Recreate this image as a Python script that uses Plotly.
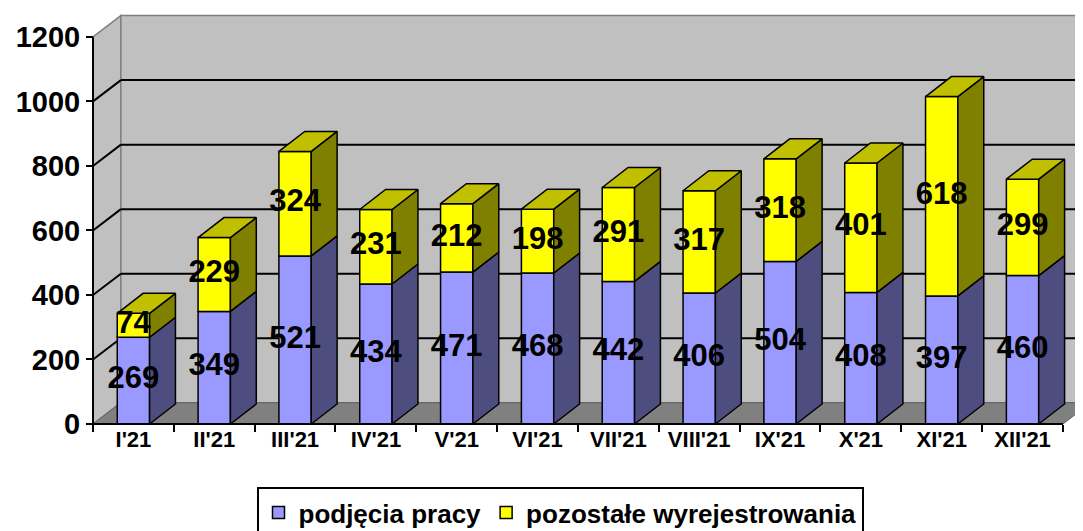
import plotly.graph_objects as go

months = ["I'21", "II'21", "III'21", "IV'21", "V'21", "VI'21",
          "VII'21", "VIII'21", "IX'21", "X'21", "XI'21", "XII'21"]
podjecia = [269, 349, 521, 434, 471, 468, 442, 406, 504, 408, 397, 460]
pozostale = [74, 229, 324, 231, 212, 198, 291, 317, 318, 401, 618, 299]
yticks = [0, 200, 400, 600, 800, 1000, 1200]
series_names = ["podjęcia pracy", "pozostałe wyrejestrowania"]

FONT = "Arial, Liberation Sans, sans-serif"
OFF = 8          # page body margin
W = 1083 - OFF
H = 531 - OFF
L, R, T, B = 85 - OFF, 0, 14 - OFF, 104
SX = 80.83      # px per category
SY = 0.3226     # px per unit
X0PX = 93 - OFF       # pixel of x=-0.5
Y0PX = 424 - OFF      # pixel of y=0

pw = W - L - R
ph = H - T - B
xmin = -0.5 - (X0PX - L) / SX
xmax = xmin + pw / SX
ymin = -((H - B) - Y0PX) / SY
ymax = ymin + ph / SY

n = len(months)
xs = list(range(n))
ymax_tick = yticks[-1]

BW = 0.4          # bar front width
BDX, BDY = 0.32, 62   # bar depth
DX, DY = 0.345, 66    # wall depth

PURPLE = "#9999FF"
PURPLE_SIDE = "#4D4D80"
YELLOW = "#FFFF00"
YELLOW_SIDE = "#808000"
YELLOW_TOP = "#C0C000"
WALL = "#C0C0C0"
FLOOR = "#808080"
EDGE = "#808080"

left = -0.5
right = n - 0.5

shapes = []
# left wall
shapes.append(dict(type="path", xref="x", yref="y", layer="below",
                   path=f"M{left},0 L{left+DX},{DY} L{left+DX},{ymax_tick+DY} L{left},{ymax_tick} Z",
                   fillcolor=WALL, line=dict(color=EDGE, width=1.5)))
# back wall
shapes.append(dict(type="rect", xref="x", yref="y", layer="below",
                   x0=left + DX, y0=DY, x1=right + DX, y1=ymax_tick + DY,
                   fillcolor=WALL, line=dict(color=EDGE, width=1.5)))
# floor
shapes.append(dict(type="path", xref="x", yref="y", layer="below",
                   path=f"M{left},0 L{right},0 L{right+DX},{DY} L{left+DX},{DY} Z",
                   fillcolor=FLOOR, line=dict(color="#606060", width=1)))
# gridlines
for v in yticks[1:-1]:
    shapes.append(dict(type="line", xref="x", yref="y", layer="below",
                       x0=left, y0=v, x1=left + DX, y1=v + DY,
                       line=dict(color="black", width=2)))
    shapes.append(dict(type="line", xref="x", yref="y", layer="below",
                       x0=left + DX, y0=v + DY, x1=right + DX, y1=v + DY,
                       line=dict(color="black", width=2)))
# axis lines
shapes.append(dict(type="line", xref="x", yref="y", layer="above",
                   x0=left, y0=0, x1=left, y1=ymax_tick,
                   line=dict(color="black", width=2)))
shapes.append(dict(type="line", xref="x", yref="y", layer="above",
                   x0=left, y0=0, x1=right, y1=0,
                   line=dict(color="black", width=2)))

fig = go.Figure()

fig.add_trace(go.Bar(x=xs, y=podjecia, width=BW, name=series_names[0],
                     marker=dict(color=PURPLE, line=dict(color="black", width=1.5)),
                     hoverinfo="skip"))
fig.add_trace(go.Bar(x=xs, y=pozostale, base=podjecia, width=BW, name=series_names[1],
                     marker=dict(color=YELLOW, line=dict(color="black", width=1.5)),
                     hoverinfo="skip"))


def side_polys(bases, tops):
    px, py = [], []
    for i, (b0, t0) in enumerate(zip(bases, tops)):
        xr = i + BW / 2
        px += [xr, xr + BDX, xr + BDX, xr, xr, None]
        py += [b0, b0 + BDY, t0 + BDY, t0, b0, None]
    return px, py


def top_polys(tops):
    px, py = [], []
    for i, t0 in enumerate(tops):
        xl = i - BW / 2
        xr = i + BW / 2
        px += [xl, xr, xr + BDX, xl + BDX, xl, None]
        py += [t0, t0, t0 + BDY, t0 + BDY, t0, None]
    return px, py


totals = [a + b for a, b in zip(podjecia, pozostale)]
zeros = [0] * n

sx1, sy1 = side_polys(zeros, podjecia)
fig.add_trace(go.Scatter(x=sx1, y=sy1, mode="lines", fill="toself", fillcolor=PURPLE_SIDE,
                         line=dict(color="black", width=1.5), showlegend=False, hoverinfo="skip"))
sx2, sy2 = side_polys(podjecia, totals)
fig.add_trace(go.Scatter(x=sx2, y=sy2, mode="lines", fill="toself", fillcolor=YELLOW_SIDE,
                         line=dict(color="black", width=1.5), showlegend=False, hoverinfo="skip"))
tx, ty = top_polys(totals)
fig.add_trace(go.Scatter(x=tx, y=ty, mode="lines", fill="toself", fillcolor=YELLOW_TOP,
                         line=dict(color="black", width=1.5), showlegend=False, hoverinfo="skip"))

# value labels
LBL = dict(family=FONT, size=31, color="black", weight="bold")
fig.add_trace(go.Scatter(x=xs, y=[v / 2 for v in podjecia], mode="text",
                         text=[str(v) for v in podjecia], textfont=LBL,
                         showlegend=False, hoverinfo="skip"))
fig.add_trace(go.Scatter(x=xs, y=[a + b / 2 for a, b in zip(podjecia, pozostale)], mode="text",
                         text=[str(v) for v in pozostale], textfont=LBL,
                         showlegend=False, hoverinfo="skip"))

fig.update_layout(
    width=W, height=H,
    margin=dict(l=L, r=R, t=T, b=B, autoexpand=False),
    paper_bgcolor="white", plot_bgcolor="white",
    barmode="overlay",
    shapes=shapes,
    showlegend=True,
    legend=dict(orientation="h", x=(560 - OFF - L) / pw, xanchor="center",
                y=((H - B) - (487 - OFF)) / ph, yanchor="top",
                bgcolor="white", bordercolor="black", borderwidth=2,
                font=dict(family=FONT, size=26, color="black", weight="bold"),
                traceorder="normal", tracegroupgap=0),
    xaxis=dict(range=[xmin, xmax], tickvals=xs, ticktext=months,
               showgrid=False, zeroline=False, showline=False,
               ticks="", anchor="free", position=((H - B) - Y0PX) / ph,
               tickfont=dict(family=FONT, size=22, color="black", weight="bold"),
               minor=dict(tickvals=[i - 0.5 for i in range(n + 1)], ticks="outside",
                          ticklen=7, tickwidth=2, tickcolor="black", showgrid=False),
               automargin=False, fixedrange=True),
    yaxis=dict(range=[ymin, ymax], tickvals=yticks, ticktext=[str(v) for v in yticks],
               showgrid=False, zeroline=False, showline=False,
               ticks="outside", ticklen=7, tickwidth=2, tickcolor="black",
               anchor="free", position=(X0PX - L) / pw,
               tickfont=dict(family=FONT, size=29, color="black", weight="bold"),
               automargin=False, fixedrange=True),
)

fig.write_html("out.html")
